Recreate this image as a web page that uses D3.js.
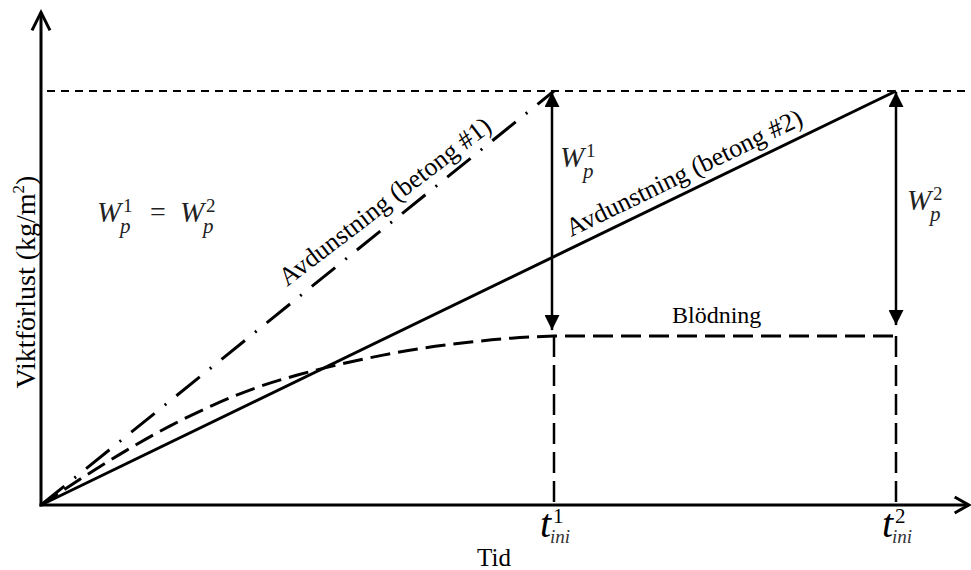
<!DOCTYPE html>
<html>
<head>
<meta charset="utf-8">
<script src="https://cdn.jsdelivr.net/npm/d3@7"></script>
<style>
  html, body { margin: 0; padding: 0; background: #fff; }
  svg { display: block; }
</style>
</head>
<body>
<svg id="chart" width="971" height="570"></svg>
<script>
// Time axis: t_ini for concrete #1 and #2 (relative units, t_ini2 = 100)
const tIni = [60, 100];
const tIniLabels = ["1", "2"];
// Plastic-shrinkage weight loss at initiation (same for both concretes)
const wpLevel = 100;
// Evaporation lines: concrete #1 reaches Wp at t_ini1, concrete #2 at t_ini2
const evap1 = [[0, 0], [60, 100]];
const evap2 = [[0, 0], [100, 100]];
// Bleeding curve (saturating), then constant after t_ini1
const bleeding = [[0, 0], [5, 6.8], [10, 13.2], [15, 19], [20, 24], [25, 28.2], [30, 31.4],
                  [35, 34], [40, 36.2], [45, 38], [50, 39.3], [55, 40.3], [60, 40.8]];
const bleedTail = [[60, 40.8], [100, 40.8]];
const bleedPlateau = 40.8;
// Axis extents
const xMax = 108.5, yMax = 119;

const FONT = "Liberation Serif";
const svg = d3.select("#chart");
const x = d3.scaleLinear().domain([0, 100]).range([41, 896]);
const y = d3.scaleLinear().domain([0, 100]).range([505, 91]);

const straight = d3.line().x(d => x(d[0])).y(d => y(d[1]));
const smooth = d3.line().x(d => x(d[0])).y(d => y(d[1])).curve(d3.curveMonotoneX);

function txt(parent, size) {
  return parent.append("text").attr("font-family", FONT).attr("font-size", size).attr("fill", "#000");
}

// Reference level Wp (thin dashed)
svg.append("line")
  .attr("x1", x(0) + 6).attr("x2", x(xMax))
  .attr("y1", y(wpLevel)).attr("y2", y(wpLevel))
  .attr("stroke", "#000").attr("stroke-width", 2)
  .attr("stroke-dasharray", "8,6");

// Vertical dashed lines at t_ini
svg.selectAll(".tline").data(tIni).enter().append("line")
  .attr("x1", d => x(d)).attr("x2", d => x(d))
  .attr("y1", y(bleedPlateau)).attr("y2", y(0))
  .attr("stroke", "#000").attr("stroke-width", 2.5)
  .attr("stroke-dasharray", "21,8");

// Bleeding
svg.append("path")
  .attr("d", smooth(bleeding) + straight(bleedTail).replace(/^M/, "L"))
  .attr("fill", "none").attr("stroke", "#000").attr("stroke-width", 3)
  .attr("stroke-dasharray", "20,8");

// Evaporation concrete #1 (dash-dot)
svg.append("path").datum(evap1)
  .attr("d", straight)
  .attr("fill", "none").attr("stroke", "#000").attr("stroke-width", 3)
  .attr("stroke-dasharray", "30,13,2,13");

// Evaporation concrete #2 (solid)
svg.append("path").datum(evap2)
  .attr("d", straight)
  .attr("fill", "none").attr("stroke", "#000").attr("stroke-width", 3);

// Double-headed arrows for Wp
const defs = svg.append("defs");
defs.append("marker").attr("id", "tri").attr("viewBox", "0 0 10 10")
  .attr("refX", 10).attr("refY", 5).attr("markerWidth", 17).attr("markerHeight", 15)
  .attr("markerUnits", "userSpaceOnUse").attr("orient", "auto-start-reverse")
  .append("path").attr("d", "M0,0 L10,5 L0,10 Z").attr("fill", "#000");

const arrowGap = [6, 11];
svg.selectAll(".wparrow").data(tIni).enter().append("line")
  .attr("x1", (d, i) => x(d) - (i === 0 ? 2 : 0)).attr("x2", (d, i) => x(d) - (i === 0 ? 2 : 0))
  .attr("y1", y(wpLevel) + 1).attr("y2", (d, i) => y(bleedPlateau) - arrowGap[i])
  .attr("stroke", "#000").attr("stroke-width", 2.5)
  .attr("marker-start", "url(#tri)").attr("marker-end", "url(#tri)");

// Axes
const axisG = svg.append("g").attr("stroke", "#000").attr("stroke-width", 3).attr("fill", "none");
axisG.append("line").attr("x1", x(0)).attr("x2", x(0)).attr("y1", y(0) + 1.5).attr("y2", y(yMax));
axisG.append("line").attr("x1", x(0) - 1.5).attr("x2", x(xMax)).attr("y1", y(0)).attr("y2", y(0));
axisG.append("path")
  .attr("d", `M${x(0) - 9},${y(yMax) + 18} L${x(0)},${y(yMax)} L${x(0) + 9},${y(yMax) + 18}`);
axisG.append("path")
  .attr("d", `M${x(xMax) - 14},${y(0) - 8} L${x(xMax)},${y(0)} L${x(xMax) - 14},${y(0) + 8}`);

// Axis titles
txt(svg, 25).attr("x", 494).attr("y", 566).attr("text-anchor", "middle").text("Tid");

const yl = txt(svg, 28).attr("transform", "translate(35,282) rotate(-90)").attr("text-anchor", "middle");
yl.append("tspan").text("Viktförlust (kg/m");
yl.append("tspan").attr("font-size", 17).attr("dy", -11).text("2");
yl.append("tspan").attr("dy", 11).text(")");

// t_ini labels: t with superscript index and subscript "ini"
tIni.forEach((t, i) => {
  const g = svg.append("g").attr("transform", `translate(${x(t)},537)`);
  txt(g, 40).attr("x", -14).attr("font-style", "italic").text("t");
  txt(g, 21).attr("x", -1).attr("y", -14).text(tIniLabels[i]);
  txt(g, 19).attr("x", -4).attr("y", 6).attr("font-style", "italic").attr("fill", "#333").text("ini");
});

// W_p symbols
function wp(gx, gy, sup) {
  const g = svg.append("g").attr("transform", `translate(${gx},${gy})`);
  txt(g, 29).attr("font-style", "italic").attr("fill", "#222").text("W");
  txt(g, 19).attr("x", 26).attr("y", -10).attr("fill", "#222").text(sup);
  txt(g, 21).attr("x", 23).attr("y", 11).attr("font-style", "italic").attr("fill", "#222").text("p");
  return g;
}
wp(560, 167, "1");
wp(907, 210, "2");
wp(97, 222, "1");
txt(svg, 28).attr("x", 150).attr("y", 221).attr("fill", "#222").text("=");
wp(180, 222, "2");

// Curve labels
txt(svg, 24).attr("x", 672).attr("y", 323).text("Blödning");

const ang1 = Math.atan2(y(evap1[1][1]) - y(0), x(evap1[1][0]) - x(0)) * 180 / Math.PI;
const ang2 = Math.atan2(y(evap2[1][1]) - y(0), x(evap2[1][0]) - x(0)) * 180 / Math.PI;
txt(svg, 26).attr("transform", `translate(287,287) rotate(${ang1 + 1.5})`)
  .text("Avdunstning (betong #1)");
txt(svg, 26).attr("transform", `translate(571,237) rotate(${ang2})`)
  .text("Avdunstning (betong #2)");
</script>
</body>
</html>
